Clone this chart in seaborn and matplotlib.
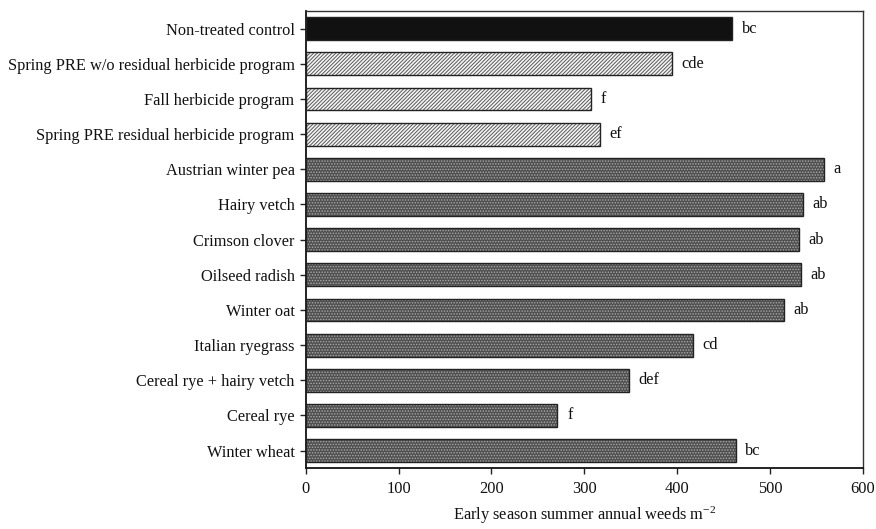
import matplotlib
matplotlib.use("Agg")
import matplotlib.pyplot as plt
import seaborn as sns
import pandas as pd
from matplotlib.patches import Rectangle

treatments = [
    "Non-treated control",
    "Spring PRE w/o residual herbicide program",
    "Fall herbicide program",
    "Spring PRE residual herbicide program",
    "Austrian winter pea",
    "Hairy vetch",
    "Crimson clover",
    "Oilseed radish",
    "Winter oat",
    "Italian ryegrass",
    "Cereal rye + hairy vetch",
    "Cereal rye",
    "Winter wheat",
]
weeds = [459, 394, 307, 317, 558, 535, 531, 533, 515, 417, 348, 271, 463]
letters = ["bc", "cde", "f", "ef", "a", "ab", "ab", "ab", "ab", "cd", "def", "f", "bc"]
groups = ["control", "herbicide", "herbicide", "herbicide"] + ["cover"] * 9

sns.set_theme(style="white")
plt.rcParams["font.family"] = ["Liberation Serif", "DejaVu Serif"]
plt.rcParams["mathtext.fontset"] = "custom"
plt.rcParams["mathtext.rm"] = "Liberation Serif"
plt.rcParams["mathtext.it"] = "Liberation Serif:italic"
plt.rcParams["hatch.linewidth"] = 0.7

df = pd.DataFrame({"treatment": treatments, "weeds": weeds, "group": groups})

fig = plt.figure(figsize=(8.76, 5.29), dpi=100)
ax = fig.add_axes([0.349, 0.115, 0.636, 0.864])

face = {"control": "#111111", "herbicide": "#f4f4f4", "cover": "#505050"}
hatchc = {"control": "#111111", "herbicide": "#5a5a5a", "cover": "#a8a8a8"}
hatches = {"control": "", "herbicide": "/////////", "cover": "......"}

sns.barplot(data=df, x="weeds", y="treatment", orient="h", width=0.65,
            color="#444444", ax=ax, errorbar=None)

FS = 11.8
for patch, g, val, lab in zip(ax.patches, groups, weeds, letters):
    patch.set_facecolor(face[g])
    patch.set_edgecolor(hatchc[g])
    patch.set_hatch(hatches[g])
    patch.set_linewidth(0)
    ax.add_patch(Rectangle((patch.get_x(), patch.get_y()), patch.get_width(),
                           patch.get_height(), fill=False, edgecolor="#222222",
                           linewidth=1.0, zorder=3))
    ax.annotate(lab, xy=(val, patch.get_y() + patch.get_height() / 2),
                xytext=(7, 0), textcoords="offset points", va="center",
                ha="left", fontsize=FS, color="#111111")

ax.set_xlim(0, 600)
ax.set_xticks([0, 100, 200, 300, 400, 500, 600])
ax.set_ylabel("")
ax.set_xlabel("Early season summer annual weeds m$^{\\mathrm{-2}}$", fontsize=FS,
              labelpad=6, color="#111111")
ax.tick_params(axis="both", which="major", direction="out", length=4,
               width=1, color="#222222", labelsize=FS, labelcolor="#111111",
               left=True, bottom=True)
ax.tick_params(axis="x", pad=5)
ax.tick_params(axis="y", pad=4)
for s in ax.spines.values():
    s.set_visible(True)
    s.set_color("#333333")
    s.set_linewidth(1.0)
ax.spines["left"].set_color("#111111")
ax.spines["bottom"].set_color("#111111")
ax.spines["left"].set_linewidth(1.3)
ax.spines["bottom"].set_linewidth(1.3)

fig.savefig("out.png", dpi=100)
